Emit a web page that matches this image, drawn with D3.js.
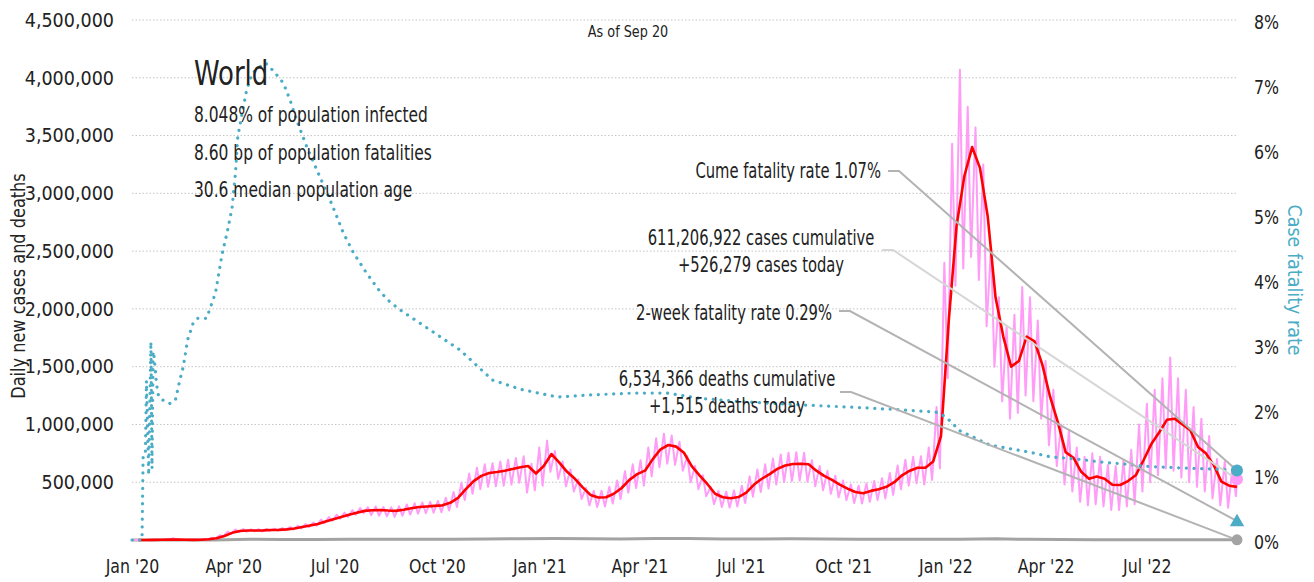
<!DOCTYPE html>
<meta charset="utf-8">
<script src="https://d3js.org/d3.v7.min.js"></script>
<style>
  body { margin: 0; background: #fff; }
  text { font-family: "DejaVu Sans Condensed", "DejaVu Sans", sans-serif; fill: #222; }
</style>
<div id="my_dataviz"></div>

<script>
// ---- data ----
// weekly points, the first one on Jan 7 2020, then every 7 days up to Sep 20 2022
var weekStart = "2020-01-07";
// 7-day average of new cases, thousands
var casesAvg = [
  0, 0, 1, 2, 3, 3, 2, 1.5, 2.5, 6,
  15, 35, 62, 78, 82, 82, 83, 86, 88, 92,
  100, 112, 125, 138, 160, 180, 200, 218, 235, 252,
  258, 260, 255, 252, 262, 275, 285, 290, 295, 300,
  322, 365, 440, 510, 555, 580, 588, 600, 615, 630,
  640, 575, 640, 744, 670, 590, 530, 455, 390, 368,
  370, 400, 450, 520, 570, 600, 700, 785, 822, 808,
  755, 640, 560, 485, 400, 370, 362, 372, 410, 480,
  530, 570, 615, 645, 658, 660, 655, 600, 555, 520,
  480, 445, 415, 405, 425, 440, 460, 500, 560, 600,
  625, 625, 680, 900, 1900, 2720, 3150, 3400, 3220, 2800,
  2100, 1760, 1500, 1550, 1760, 1720, 1520, 1240, 1020, 760,
  712, 590, 530, 550, 530, 478, 476, 510, 560, 690,
  830, 930, 1040, 1050, 1000, 950, 805, 750, 650, 505,
  470, 460
];
// daily new cases: weekday high and weekend low of each week, thousands
var casesHigh = [
  0, 0, 2, 3, 4, 15, 3, 2, 3, 8,
  20, 42, 72, 90, 95, 92, 93, 96, 98, 104,
  112, 124, 138, 152, 176, 198, 218, 238, 258, 276,
  284, 290, 285, 282, 292, 308, 318, 325, 330, 338,
  365, 415, 495, 575, 625, 655, 665, 680, 695, 710,
  725, 660, 800, 860, 770, 680, 610, 525, 450, 425,
  425, 460, 515, 595, 655, 690, 800, 880, 920, 905,
  850, 725, 640, 560, 460, 425, 418, 428, 470, 550,
  610, 655, 705, 740, 755, 760, 755, 690, 640, 600,
  555, 515, 480, 470, 490, 510, 535, 580, 645, 695,
  720, 725, 800, 1150, 2400, 3430, 4070, 3750, 3570, 3250,
  2540, 2100, 1850, 1950, 2190, 2100, 1900, 1550, 1300, 1000,
  950, 800, 720, 750, 720, 650, 640, 690, 780, 1000,
  1180, 1300, 1400, 1580, 1400, 1300, 1150, 1050, 900, 700,
  680, 640
];
var casesLow = [
  0, 0, 0, 1, 2, 2, 1, 1, 2, 4,
  12, 30, 55, 70, 72, 74, 74, 78, 80, 84,
  90, 100, 112, 124, 146, 166, 184, 200, 218, 232,
  215, 210, 205, 200, 210, 220, 228, 232, 236, 240,
  255, 285, 345, 400, 440, 460, 465, 470, 480, 495,
  410, 430, 470, 590, 530, 465, 420, 355, 300, 285,
  290, 315, 355, 410, 450, 470, 550, 630, 660, 650,
  600, 500, 440, 380, 310, 285, 280, 290, 320, 375,
  415, 445, 480, 500, 510, 515, 505, 465, 430, 400,
  370, 345, 320, 315, 330, 345, 360, 390, 440, 470,
  490, 480, 520, 620, 1400, 2200, 2350, 2450, 2250, 1850,
  1500, 1200, 1050, 1100, 1250, 1200, 1050, 820, 640, 480,
  420, 330, 300, 310, 290, 260, 260, 290, 310, 420,
  500, 560, 620, 600, 540, 500, 460, 420, 360, 300,
  280, 380
];

// cumulative case fatality rate, percent
var cfrDates = [
  "2020-01-01", "2020-01-10", "2020-01-11", "2020-01-13", "2020-01-14", "2020-01-16",
  "2020-01-18", "2020-01-19", "2020-01-20", "2020-01-21", "2020-01-23", "2020-01-25",
  "2020-01-29", "2020-02-04", "2020-02-09", "2020-02-13", "2020-02-16", "2020-02-20",
  "2020-02-25", "2020-02-29", "2020-03-08", "2020-03-16", "2020-03-22", "2020-03-27",
  "2020-03-31", "2020-04-03", "2020-04-05", "2020-04-09", "2020-04-13", "2020-04-18",
  "2020-04-25", "2020-04-30", "2020-05-08", "2020-05-16", "2020-05-22", "2020-05-28",
  "2020-06-06", "2020-06-18", "2020-06-29", "2020-07-09", "2020-07-18", "2020-07-30",
  "2020-08-11", "2020-08-20", "2020-08-29", "2020-09-25", "2020-10-22", "2020-11-20",
  "2020-12-15", "2021-01-17", "2021-02-13", "2021-03-26", "2021-04-26", "2021-05-25",
  "2021-06-30", "2021-08-23", "2021-10-25", "2021-12-23", "2022-01-01", "2022-01-14",
  "2022-02-10", "2022-03-18", "2022-04-05", "2022-05-02", "2022-05-20", "2022-06-16",
  "2022-07-04", "2022-07-31", "2022-09-02", "2022-09-20"
];
var cfrValues = [
  0, 0, 1.28, 1.3, 2.45, 1.0,
  3.05, 1.1, 2.9, 2.8, 2.4, 2.2,
  2.15, 2.1, 2.15, 2.46, 2.66, 3.08,
  3.34, 3.41, 3.41, 3.8, 4.4, 4.77,
  5.12, 5.65, 6.2, 6.57, 6.92, 7.18,
  7.28, 7.34, 7.2, 7.03, 6.77, 6.46,
  6.05, 5.58, 5.15, 4.72, 4.42, 4.1,
  3.82, 3.66, 3.54, 3.23, 2.92, 2.46,
  2.32, 2.2, 2.23, 2.26, 2.26, 2.18,
  2.13, 2.08, 2.03, 1.97, 1.9, 1.68,
  1.46, 1.35, 1.28, 1.24, 1.2, 1.16,
  1.13, 1.11, 1.09, 1.07
];

// daily deaths, thousands
var deathDates = [
  "2020-01-01", "2020-01-15", "2020-02-15", "2020-03-15", "2020-04-15", "2020-05-15", "2020-06-15",
  "2020-07-15", "2020-08-15", "2020-09-15", "2020-10-15", "2020-11-15", "2020-12-15",
  "2021-01-15", "2021-02-15", "2021-03-15", "2021-04-15", "2021-05-15", "2021-06-15",
  "2021-07-15", "2021-08-15", "2021-09-15", "2021-10-15", "2021-11-15", "2021-12-15",
  "2022-01-15", "2022-02-15", "2022-03-15", "2022-04-15", "2022-05-15", "2022-06-15",
  "2022-07-15", "2022-08-15", "2022-09-20"
];
var deathValues = [
  0, 0, 0.1, 0.8, 7, 5, 4.5, 5.5, 6, 5.5, 6, 9, 11.5,
  14, 11, 9, 12.5, 12.5, 9.5, 8, 10, 9, 7, 7, 6.5,
  7.5, 10.5, 6, 4, 2.5, 1.8, 2.2, 2.3, 1.5
];

var startDate = "2020-01-01", endDate = "2022-09-20";
var xTickDates = ["2020-01-01", "2020-04-01", "2020-07-01", "2020-10-01", "2021-01-01", "2021-04-01",
                  "2021-07-01", "2021-10-01", "2022-01-01", "2022-04-01", "2022-07-01"];
var xTickLabels = ["Jan '20", "Apr '20", "Jul '20", "Oct '20", "Jan '21", "Apr '21",
                   "Jul '21", "Oct '21", "Jan '22", "Apr '22", "Jul '22"];
var caseTicks = [500000, 1000000, 1500000, 2000000, 2500000, 3000000, 3500000, 4000000, 4500000];
var rateTicks = [0, 1, 2, 3, 4, 5, 6, 7, 8];

// latest values
var cumeRate = 1.07, twoWeekRate = 0.29;
var casesCumulative = 611206922, casesToday = 526279;
var deathsCumulative = 6534366, deathsToday = 1515;
var infoLines = ["8.048% of population infected", "8.60 bp of population fatalities", "30.6 median population age"];

// ---- chart ----
var W = 1314, H = 582;
var teal = "#4bacc6", pink = "#ff9cf7", red = "#ff0000", grey = "#a3a3a3";
var narrow = 0.8;   // squeeze wide font to the chart's condensed face

var svg = d3.select("#my_dataviz")
  .append("svg")
    .attr("width", W)
    .attr("height", H);

var parse = d3.timeParse("%Y-%m-%d");
var fmt = d3.format(",");

var x = d3.scaleTime()
  .domain([parse(startDate), parse(endDate)])
  .range([132, 1237]);
var y = d3.scaleLinear()
  .domain([0, 4500000])
  .range([540, 20]);
var yRate = d3.scaleLinear()
  .domain([0, 8])
  .range([540, 20]);

function label(px, py, str, size, anchor, sx) {
  return svg.append("text")
    .attr("transform", "translate(" + px + "," + py + ")scale(" + (sx || narrow) + ",1)")
    .attr("text-anchor", anchor || "start")
    .attr("font-size", size)
    .text(str);
}

// gridlines
svg.append("g")
  .selectAll("line")
  .data(caseTicks)
  .enter()
  .append("line")
    .attr("x1", 132)
    .attr("x2", 1237)
    .attr("y1", function(d) { return y(d); })
    .attr("y2", function(d) { return y(d); })
    .attr("stroke", "#c4c4c4")
    .attr("stroke-width", 1)
    .attr("stroke-dasharray", "1.5,2");

// left axis
var yAxis = svg.append("g")
  .attr("transform", "translate(118,0)")
  .call(d3.axisLeft(y).tickValues(caseTicks).tickSize(0).tickFormat(fmt));
yAxis.select(".domain").remove();
yAxis.selectAll("text").attr("font-size", 19.5).attr("fill", "#222").attr("x", -4);

// right axis
var rAxis = svg.append("g")
  .attr("transform", "translate(1254,0)")
  .call(d3.axisRight(yRate).tickValues(rateTicks).tickSize(0).tickFormat(function(d) { return d + "%"; }));
rAxis.select(".domain").remove();
rAxis.selectAll("text")
  .attr("font-size", 19.5).attr("fill", teal).attr("x", 0).attr("dy", "0.45em")
  .attr("transform", "scale(0.9,1)");

// bottom axis
var xAxis = svg.append("g")
  .attr("transform", "translate(0,556)")
  .call(d3.axisBottom(x).tickValues(xTickDates.map(parse)).tickSize(0)
    .tickFormat(function(d, i) { return xTickLabels[i]; }));
xAxis.select(".domain").remove();
xAxis.selectAll("text").attr("font-size", 19.5).attr("fill", "#222").attr("transform", "scale(0.9,1)");

// axis titles
svg.append("text")
  .attr("transform", "translate(25,286)rotate(-90)scale(0.92,1)")
  .attr("text-anchor", "middle")
  .attr("font-size", 19.5)
  .text("Daily new cases and deaths");
svg.append("text")
  .attr("transform", "translate(1288,280)rotate(90)")
  .attr("text-anchor", "middle")
  .attr("font-size", 19.5)
  .style("fill", teal)
  .text("Case fatality rate");

// series
var weeks = casesAvg.map(function(d, i) { return d3.timeDay.offset(parse(weekStart), 7 * i); });

var daily = [];
weeks.forEach(function(w, i) {
  daily.push({date: d3.timeDay.offset(w, -4), v: casesHigh[i] * 1000});
  daily.push({date: d3.timeDay.offset(w, -1), v: casesLow[i] * 1000});
});
daily.push({date: parse(endDate), v: casesToday});

var line = d3.line()
  .x(function(d) { return x(d.date); })
  .y(function(d) { return y(d.v); });

// deaths
svg.append("path")
  .datum(deathDates.map(function(d, i) { return {date: parse(d), v: deathValues[i] * 1000}; }))
  .attr("fill", "none")
  .attr("stroke", grey)
  .attr("stroke-width", 3)
  .attr("d", line);

// daily cases
svg.append("path")
  .datum(daily)
  .attr("fill", "none")
  .attr("stroke", pink)
  .attr("stroke-width", 2)
  .attr("stroke-linejoin", "round")
  .attr("d", line);

// 7-day average
svg.append("path")
  .datum(weeks.map(function(w, i) { return {date: w, v: casesAvg[i] * 1000}; }))
  .attr("fill", "none")
  .attr("stroke", red)
  .attr("stroke-width", 2.6)
  .attr("stroke-linejoin", "round")
  .attr("d", line);

// fatality rate
svg.append("path")
  .datum(cfrDates.map(function(d, i) { return {date: parse(d), v: cfrValues[i]}; }))
  .attr("fill", "none")
  .attr("stroke", teal)
  .attr("stroke-width", 3.2)
  .attr("stroke-linecap", "round")
  .attr("stroke-dasharray", "0.1,7.6")
  .attr("d", d3.line()
    .x(function(d) { return x(d.date); })
    .y(function(d) { return yRate(d.v); }));

// title block
label(194, 85, "World", 34, "start", 0.85);
infoLines.forEach(function(t, i) {
  label(194, 122 + i * 37.5, t, 21.5);
});
label(628, 37, "As of Sep 20", 15, "middle", 0.95);

// annotations
var xe = x(parse(endDate));
var notes = [
  {lines: ["Cume fatality rate " + cumeRate.toFixed(2) + "%"], tx: 881, anchor: "end", ty: 178,
   lx: 888, ly: 171, ex: yRate(cumeRate), c: "#b3b3b3"},
  {lines: [fmt(casesCumulative) + " cases cumulative", "+" + fmt(casesToday) + " cases today"], tx: 761, anchor: "middle", ty: 245,
   lx: 882, ly: 250, ex: y(casesToday), c: "#d6d6d6"},
  {lines: ["2-week fatality rate " + twoWeekRate.toFixed(2) + "%"], tx: 832, anchor: "end", ty: 320,
   lx: 839, ly: 311, ex: yRate(twoWeekRate), c: "#b3b3b3"},
  {lines: [fmt(deathsCumulative) + " deaths cumulative", "+" + fmt(deathsToday) + " deaths today"], tx: 727, anchor: "middle", ty: 386,
   lx: 840, ly: 392, ex: y(deathsToday), c: "#b3b3b3"}
];
notes.forEach(function(n) {
  n.lines.forEach(function(t, i) {
    label(n.tx, n.ty + i * 26.5, t, 20.5, n.anchor);
  });
  svg.append("path")
    .attr("d", "M" + n.lx + "," + n.ly + "H" + (n.lx + 11) + "L" + xe + "," + n.ex)
    .attr("fill", "none")
    .attr("stroke", n.c)
    .attr("stroke-width", 2);
});

// end markers
svg.append("circle").attr("cx", xe).attr("cy", y(deathsToday)).attr("r", 5.5).attr("fill", grey);
svg.append("path")
  .attr("d", d3.symbol().type(d3.symbolTriangle).size(90))
  .attr("transform", "translate(" + xe + "," + (yRate(twoWeekRate) + 1) + ")")
  .attr("fill", teal);
svg.append("circle").attr("cx", xe).attr("cy", y(casesToday)).attr("r", 6).attr("fill", pink);
svg.append("circle").attr("cx", xe).attr("cy", yRate(cumeRate)).attr("r", 6).attr("fill", teal);
</script>
